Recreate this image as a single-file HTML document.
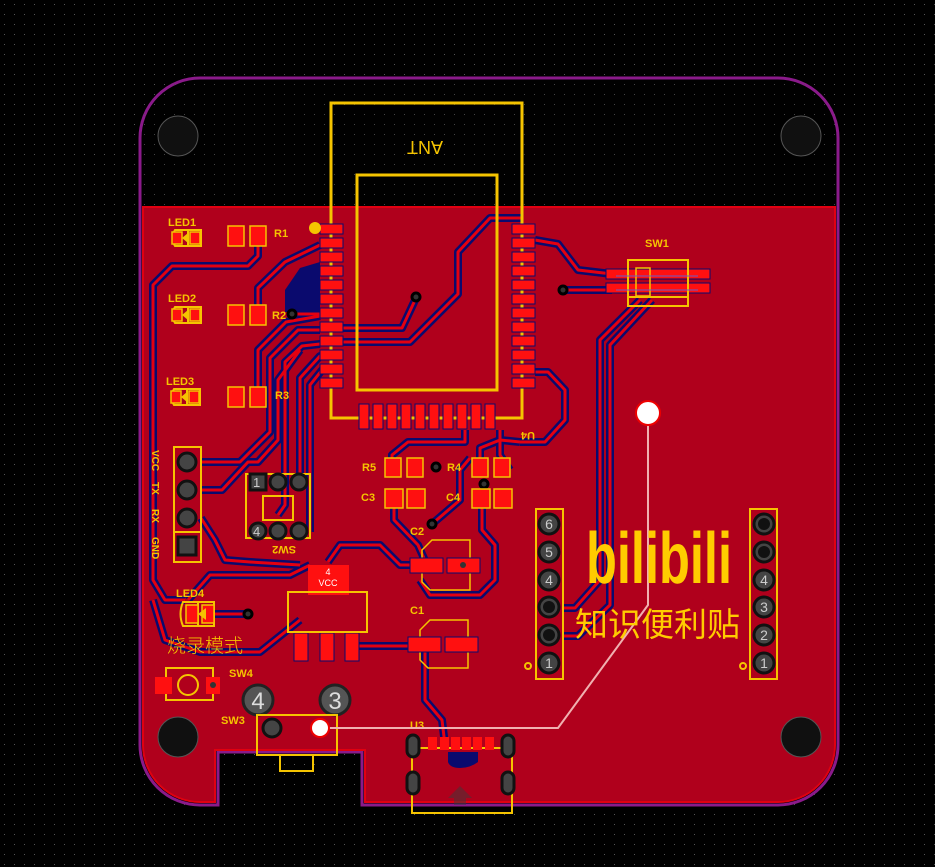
<!DOCTYPE html>
<html><head><meta charset="utf-8"><style>
html,body{margin:0;padding:0;background:#000;}
svg{display:block}
text{font-family:"Liberation Sans","Noto Sans CJK SC",sans-serif;}
</style></head><body>
<svg width="935" height="867" viewBox="0 0 935 867" xmlns="http://www.w3.org/2000/svg">
<defs>
<pattern id="grid" width="10" height="10" patternUnits="userSpaceOnUse"><rect x="4" y="4" width="1" height="1" fill="#555"/></pattern>
<g id="tr" fill="none" stroke-linejoin="round">
<polyline points="258,236 258,256 248,266 172,266 153,285 153,580 165,600 185,600"/>
<polyline points="258,315 258,288 285,262 320,245"/>
<polyline points="258,396 258,350 286,322 320,316"/>
<polyline points="320,330 298,330 270,358 270,432 240,462 201,462"/>
<polyline points="320,344 302,346 285,362 285,505 278,515"/>
<polyline points="292,314 343,314"/>
<polyline points="343,328 402,328 416,298"/>
<polyline points="343,342 410,342 458,294 458,252 490,218 522,218"/>
<polyline points="343,356 320,356 300,378 300,480 298,482"/>
<polyline points="343,370 322,370 310,385 310,532"/>
<polyline points="535,240 558,244 578,270 612,274"/>
<polyline points="563,290 612,290"/>
<polyline points="640,300 600,340 600,580 575,608 563,608"/>
<polyline points="652,300 610,345 610,605 578,636 563,636"/>
<polyline points="535,372 548,372 565,390 565,420 545,442 520,442"/>
<polyline points="465,430 465,442 408,442 392,455 392,467"/>
<polyline points="480,467 480,448 500,440 520,442"/>
<polyline points="482,498 482,530 495,545 495,580 480,595 430,595 420,580"/>
<polyline points="394,498 394,520 418,545 427,565"/>
<polyline points="328,562 340,545 380,545 400,565 427,565"/>
<polyline points="432,524 460,500 460,470 470,458"/>
<polyline points="352,646 425,646"/>
<polyline points="425,650 425,700 442,720 445,745"/>
<polyline points="213,614 248,614"/>
<polyline points="201,490 222,490 248,462 258,462 278,440 278,380 300,350"/>
<polyline points="201,518 215,540 225,560 250,562 300,565"/>
<polyline points="188,600 210,575 290,575 310,565"/>
<polyline points="153,600 165,640 200,652 260,652 300,620"/>
<polyline points="500,430 500,455 510,470"/>
</g>
</defs>
<rect width="935" height="867" fill="#000"/>
<rect width="935" height="867" fill="url(#grid)"/>
<path d="M200,78 H778 A60,60 0 0 1 838,138 V745 A60,60 0 0 1 778,805 H362 V752 H218 V805 H200 A60,60 0 0 1 140,745 V138 A60,60 0 0 1 200,78 Z" fill="#000" stroke="#8a1a8a" stroke-width="3"/>
<rect x="140" y="78" width="698" height="130" fill="url(#grid)" opacity="0.8"/>
<path d="M143,207 H835 V745 A57,57 0 0 1 778,802 H365 V750 H215 V802 H200 A57,57 0 0 1 143,745 Z" fill="#b0001c" stroke="#e00010" stroke-width="2"/>
<polygon points="320,262 320,312 285,312 285,290 300,268" fill="#0a0a6e"/>
<path d="M448,752 H478 V762 Q470,768 460,768 Q450,768 448,762Z" fill="#0a0a6e"/>
<use href="#tr" stroke="#0a0a6e" stroke-width="8"/>
<use href="#tr" stroke="#e40010" stroke-width="3"/>
<g fill="#101010" stroke="#555" stroke-width="1">
<circle cx="178" cy="136" r="20"/><circle cx="801" cy="136" r="20"/>
<circle cx="178" cy="737" r="20"/><circle cx="801" cy="737" r="20"/>
</g>
<g fill="none" stroke="#f5c400" stroke-width="3">
<rect x="331" y="103" width="191" height="315"/>
<rect x="357" y="175" width="140" height="215"/>
</g>
<text x="425" y="155" font-size="18" fill="#f5c400" text-anchor="middle" transform="scale(-1,-1) translate(-850,-296)">ANT</text>
<g fill="#ff1010" stroke="#0a0a6e" stroke-width="1">
<rect x="320" y="224" width="23" height="10"/><rect x="320" y="238" width="23" height="10"/><rect x="320" y="252" width="23" height="10"/><rect x="320" y="266" width="23" height="10"/><rect x="320" y="280" width="23" height="10"/><rect x="320" y="294" width="23" height="10"/><rect x="320" y="308" width="23" height="10"/><rect x="320" y="322" width="23" height="10"/><rect x="320" y="336" width="23" height="10"/><rect x="320" y="350" width="23" height="10"/><rect x="320" y="364" width="23" height="10"/><rect x="320" y="378" width="23" height="10"/>
<rect x="512" y="224" width="23" height="10"/><rect x="512" y="238" width="23" height="10"/><rect x="512" y="252" width="23" height="10"/><rect x="512" y="266" width="23" height="10"/><rect x="512" y="280" width="23" height="10"/><rect x="512" y="294" width="23" height="10"/><rect x="512" y="308" width="23" height="10"/><rect x="512" y="322" width="23" height="10"/><rect x="512" y="336" width="23" height="10"/><rect x="512" y="350" width="23" height="10"/><rect x="512" y="364" width="23" height="10"/><rect x="512" y="378" width="23" height="10"/>
<rect x="359" y="404" width="10" height="25"/><rect x="373" y="404" width="10" height="25"/><rect x="387" y="404" width="10" height="25"/><rect x="401" y="404" width="10" height="25"/><rect x="415" y="404" width="10" height="25"/><rect x="429" y="404" width="10" height="25"/><rect x="443" y="404" width="10" height="25"/><rect x="457" y="404" width="10" height="25"/><rect x="471" y="404" width="10" height="25"/><rect x="485" y="404" width="10" height="25"/>
</g>
<circle cx="315" cy="228" r="6" fill="#f5c400"/>
<text x="0" y="0" font-size="11" font-weight="bold" fill="#f5c400" transform="translate(535,432) scale(-1,-1)">U4</text>
<g fill="#333" stroke="#000" stroke-width="3">
<circle cx="292" cy="314" r="4"/><circle cx="416" cy="297" r="4"/><circle cx="563" cy="290" r="4"/>
<circle cx="436" cy="467" r="4"/><circle cx="484" cy="484" r="4"/><circle cx="432" cy="524" r="4"/><circle cx="248" cy="614" r="4"/>
</g>
<g font-size="11" font-weight="bold" fill="#f5c400">
<text x="168" y="226">LED1</text><text x="168" y="302">LED2</text><text x="166" y="385">LED3</text><text x="176" y="597">LED4</text>
<text x="274" y="237">R1</text><text x="272" y="319">R2</text><text x="275" y="399">R3</text>
<text x="362" y="471">R5</text><text x="447" y="471">R4</text><text x="361" y="501">C3</text><text x="446" y="501">C4</text>
<text x="410" y="535">C2</text><text x="410" y="614">C1</text><text x="229" y="677">SW4</text><text x="221" y="724">SW3</text>
<text x="410" y="729">U3</text><text x="645" y="247">SW1</text>
</g>
<g fill="none" stroke="#f5c400" stroke-width="2">
<path d="M175,230 H188 V246 H175 Q170,238 175,230Z"/><rect x="188" y="230" width="13" height="16"/>
<path d="M175,307 H188 V323 H175 Q170,315 175,307Z"/><rect x="188" y="307" width="13" height="16"/>
<path d="M174,389 H187 V405 H174 Q169,397 174,389Z"/><rect x="187" y="389" width="13" height="16"/>
<path d="M183,602 H198 V626 H183 Q178,614 183,602Z"/><rect x="198" y="602" width="16" height="24"/>
</g>
<g fill="#ff1010" stroke="#f5c400" stroke-width="1.5">
<rect x="172" y="232" width="10" height="12"/><rect x="190" y="232" width="10" height="12"/>
<rect x="172" y="309" width="10" height="12"/><rect x="190" y="309" width="10" height="12"/>
<rect x="171" y="391" width="10" height="12"/><rect x="189" y="391" width="10" height="12"/>
<rect x="186" y="605" width="12" height="18"/><rect x="202" y="605" width="12" height="18"/>
<rect x="228" y="226" width="16" height="20"/><rect x="250" y="226" width="16" height="20"/>
<rect x="228" y="305" width="16" height="20"/><rect x="250" y="305" width="16" height="20"/>
<rect x="228" y="387" width="16" height="20"/><rect x="250" y="387" width="16" height="20"/>
<rect x="385" y="458" width="16" height="19"/><rect x="407" y="458" width="16" height="19"/>
<rect x="472" y="458" width="16" height="19"/><rect x="494" y="458" width="16" height="19"/>
<rect x="385" y="489" width="18" height="19"/><rect x="407" y="489" width="18" height="19"/>
<rect x="472" y="489" width="18" height="19"/><rect x="494" y="489" width="18" height="19"/>
</g>
<g fill="#f5c400"><polygon points="182,238 188,233 188,243"/><polygon points="182,315 188,310 188,320"/><polygon points="181,397 187,392 187,402"/><polygon points="198,614 206,608 206,620"/></g>
<rect x="174" y="447" width="27" height="115" fill="none" stroke="#f5c400" stroke-width="2"/>
<line x1="174" y1="532" x2="201" y2="532" stroke="#f5c400" stroke-width="2"/>
<g fill="#444" stroke="#111" stroke-width="3"><circle cx="187" cy="462" r="9"/><circle cx="187" cy="490" r="9"/><circle cx="187" cy="518" r="9"/><rect x="178" y="537" width="18" height="18"/></g>
<g font-size="10" font-weight="bold" fill="#f5c400">
<text transform="translate(152,450) rotate(90)">VCC</text><text transform="translate(152,482) rotate(90)">TX</text><text transform="translate(152,509) rotate(90)">RX</text><text transform="translate(152,537) rotate(90)">GND</text>
</g>
<rect x="246" y="474" width="64" height="64" fill="none" stroke="#f5c400" stroke-width="2"/>
<rect x="263" y="496" width="30" height="24" fill="none" stroke="#f5c400" stroke-width="2"/>
<g fill="#444" stroke="#111" stroke-width="3"><rect x="250" y="474" width="16" height="16"/><circle cx="278" cy="482" r="8"/><circle cx="299" cy="482" r="8"/><circle cx="258" cy="531" r="8"/><circle cx="278" cy="531" r="8"/><circle cx="299" cy="531" r="8"/></g>
<text x="253" y="487" font-size="13" fill="#ccc">1</text><text x="253" y="536" font-size="13" fill="#ccc">4</text>
<text font-size="11" font-weight="bold" fill="#f5c400" transform="translate(296,546) scale(-1,-1)">SW2</text>
<g fill="none" stroke="#f5c400" stroke-width="1.5">
<path d="M470,540 H432 L422,550 V582 L430,590 H470 Z"/>
<path d="M468,620 H430 L420,630 V660 L428,668 H468 Z"/>
</g>
<g fill="#ff1010" stroke="#0a0a6e" stroke-width="1">
<rect x="410" y="558" width="33" height="15"/><rect x="447" y="558" width="33" height="15"/>
<rect x="408" y="637" width="33" height="15"/><rect x="445" y="637" width="33" height="15"/>
</g>
<circle cx="463" cy="565" r="3" fill="#333"/>
<rect x="308" y="565" width="41" height="30" fill="#ff1010"/>
<text x="328" y="575" font-size="9" fill="#fff" text-anchor="middle">4</text>
<text x="328" y="586" font-size="9" fill="#fff" text-anchor="middle">VCC</text>
<g fill="#ff1010" stroke="#0a0a6e" stroke-width="1"><rect x="294" y="633" width="14" height="28"/><rect x="320" y="633" width="14" height="28"/><rect x="345" y="633" width="14" height="28"/></g>
<rect x="288" y="592" width="79" height="40" fill="none" stroke="#f5c400" stroke-width="2"/>
<text x="167" y="652" font-size="19" fill="#f5c400" font-family="'Noto Serif CJK SC',serif" font-weight="300">烧录模式</text>
<rect x="166" y="668" width="47" height="32" fill="none" stroke="#f5c400" stroke-width="2"/>
<circle cx="188" cy="685" r="10" fill="none" stroke="#f5c400" stroke-width="2"/>
<rect x="155" y="677" width="17" height="17" fill="#ff1010"/><rect x="206" y="677" width="14" height="17" fill="#ff1010"/>
<circle cx="213" cy="685" r="3" fill="#333"/>
<g fill="#555" stroke="#222" stroke-width="3"><circle cx="258" cy="700" r="15"/><circle cx="335" cy="700" r="15"/></g>
<text x="258" y="709" font-size="24" fill="#ddd" text-anchor="middle">4</text><text x="335" y="709" font-size="24" fill="#ddd" text-anchor="middle">3</text>
<rect x="257" y="715" width="80" height="40" fill="none" stroke="#f5c400" stroke-width="2"/>
<rect x="280" y="755" width="33" height="16" fill="none" stroke="#f5c400" stroke-width="2"/>
<circle cx="272" cy="728" r="9" fill="#444" stroke="#111" stroke-width="3"/>
<rect x="412" y="748" width="100" height="65" fill="none" stroke="#f5c400" stroke-width="2"/>
<g fill="#ff1010"><rect x="428" y="737" width="9" height="13"/><rect x="440" y="737" width="9" height="13"/><rect x="451" y="737" width="9" height="13"/><rect x="462" y="737" width="9" height="13"/><rect x="473" y="737" width="9" height="13"/><rect x="485" y="737" width="9" height="13"/></g>
<g fill="#444" stroke="#111" stroke-width="3"><rect x="407" y="735" width="12" height="22" rx="6"/><rect x="502" y="735" width="12" height="22" rx="6"/><rect x="407" y="772" width="12" height="22" rx="6"/><rect x="502" y="772" width="12" height="22" rx="6"/></g>
<polygon points="448,798 460,786 472,798 466,798 466,805 454,805 454,798" fill="#3a3a3a" opacity="0.5"/>
<g fill="#ff1010" stroke="#0a0a6e" stroke-width="1"><rect x="606" y="269" width="104" height="10"/><rect x="606" y="283" width="104" height="10"/></g>
<rect x="628" y="260" width="60" height="46" fill="none" stroke="#f5c400" stroke-width="2"/>
<line x1="628" y1="297" x2="688" y2="297" stroke="#f5c400" stroke-width="2"/>
<rect x="636" y="268" width="14" height="28" fill="none" stroke="#f5c400" stroke-width="1.5"/>
<line x1="616" y1="276" x2="698" y2="276" stroke="#6a5acd" stroke-width="1"/><line x1="616" y1="290" x2="698" y2="290" stroke="#6a5acd" stroke-width="1"/>
<rect x="536" y="509" width="27" height="170" fill="none" stroke="#f5c400" stroke-width="2"/>
<rect x="750" y="509" width="27" height="170" fill="none" stroke="#f5c400" stroke-width="2"/>
<g fill="#444" stroke="#111" stroke-width="3">
<circle cx="549" cy="524" r="10"/><circle cx="549" cy="552" r="10"/><circle cx="549" cy="580" r="10"/><circle cx="549" cy="607" r="10"/><circle cx="549" cy="635" r="10"/><circle cx="549" cy="663" r="10"/>
<circle cx="764" cy="524" r="10"/><circle cx="764" cy="552" r="10"/><circle cx="764" cy="580" r="10"/><circle cx="764" cy="607" r="10"/><circle cx="764" cy="635" r="10"/><circle cx="764" cy="663" r="10"/>
</g>
<g fill="#111"><circle cx="549" cy="607" r="6"/><circle cx="549" cy="635" r="6"/><circle cx="764" cy="524" r="6"/><circle cx="764" cy="552" r="6"/></g>
<g font-size="14" fill="#ccc" text-anchor="middle">
<text x="549" y="529">6</text><text x="549" y="557">5</text><text x="549" y="585">4</text><text x="549" y="668">1</text>
<text x="764" y="585">4</text><text x="764" y="612">3</text><text x="764" y="640">2</text><text x="764" y="668">1</text>
</g>
<g fill="none" stroke="#f5c400" stroke-width="2"><circle cx="528" cy="666" r="3"/><circle cx="743" cy="666" r="3"/></g>
<polyline points="648,425 648,605 558,728 320,728" fill="none" stroke="#f0b0b0" stroke-width="2"/>
<circle cx="648" cy="413" r="12" fill="#fff" stroke="#e00" stroke-width="2"/>
<circle cx="320" cy="728" r="9" fill="#fff" stroke="#e00" stroke-width="2"/>
<text x="586" y="583" font-size="72" font-weight="bold" fill="#ffcc00" textLength="146" lengthAdjust="spacingAndGlyphs">bilibili</text>
<text x="575" y="636" font-size="33" fill="#ffcc00" textLength="165" lengthAdjust="spacingAndGlyphs">知识便利贴</text>
</svg>
</body></html>
